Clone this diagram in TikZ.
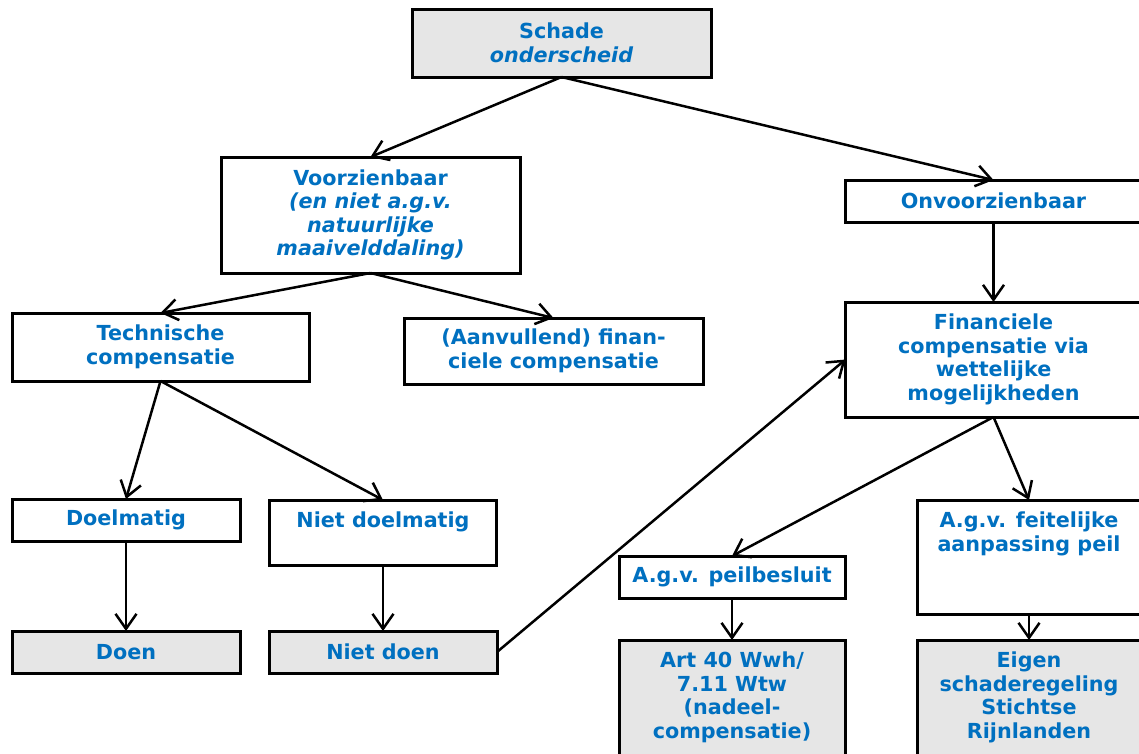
\documentclass[tikz,border=0pt]{standalone}
\usepackage{fontspec}
\setmainfont{DejaVu Sans}
\usetikzlibrary{arrows.meta}
\definecolor{txtblue}{HTML}{0070C0}
\definecolor{boxgray}{HTML}{E6E6E6}
\tikzset{
  txt/.style={inner sep=0pt, align=center, text=txtblue,
    font=\fontsize{20.7}{23.5}\selectfont\bfseries},
  box/.style={txt, draw=black, line width=3pt, fill=white, outer sep=0pt},
  grey/.style={box, fill=boxgray},
  conn/.style={line width=2.5pt, -{Straight Barb[length=15pt,width=21pt,line width=2.5pt]}},
}
\newcommand{\itx}[1]{{\itshape #1}}
\begin{document}
\begin{tikzpicture}[x=1pt,y=-1pt]
\useasboundingbox (0,0) rectangle (1139,753);
\begin{scope}
\clip (0,0) rectangle (1139,753);
% top level
\node[grey, minimum width=299pt, minimum height=68pt] (schade) at (561.5,43) {Schade\\\itx{onderscheid}};
\node[box, minimum width=299pt, minimum height=116pt] (voorz) at (370.5,215)
  {Voorzienbaar\\\itx{(en niet a.g.v.}\\\itx{natuurlijke}\\\itx{maaivelddaling)}};
\node[box, minimum width=296pt, minimum height=42pt] (onvoorz) at (993.5,201) {Onvoorzienbaar};
% second level
\node[box, minimum width=297pt, minimum height=68pt] (techn) at (160.5,347) {Technische\\compensatie};
\node[box, minimum width=299pt, minimum height=66pt] (aanv) at (553.5,351) {(Aanvullend) finan-\\ciele compensatie};
\node[box, minimum width=296pt, minimum height=115pt] (finan) at (993.5,359.5)
  {Financiele\\compensatie via\\wettelijke\\mogelijkheden};
% third level
\node[box, minimum width=228pt, minimum height=42pt] (doelm) at (126,520) {Doelmatig};
\node[box, minimum width=227pt, minimum height=65pt] (nietdm) at (383,532.5) {};
\node[txt, anchor=north] (nietdmt) at ([yshift=-12pt]nietdm.north) {Niet doelmatig};
\node[box, minimum width=226pt, minimum height=42pt] (peil) at (732,577) {A.g.v. peilbesluit};
\node[box, minimum width=224pt, minimum height=114pt] (feit) at (1029,557) {};
\node[txt, anchor=north] (feitt) at ([yshift=-12pt]feit.north) {A.g.v. feitelijke\\aanpassing peil};
% bottom level
\node[grey, minimum width=228pt, minimum height=42pt] (doen) at (126,652) {Doen};
\node[grey, minimum width=228pt, minimum height=42pt] (nietdoen) at (383,652) {Niet doen};
\node[grey, minimum width=226pt, minimum height=130pt] (art) at (732,705) {};
\node[txt, anchor=north] (artt) at ([yshift=-12pt]art.north) {Art 40 Wwh/\\7.11 Wtw\\(nadeel-\\compensatie)};
\node[grey, minimum width=224pt, minimum height=130pt] (eigen) at (1029,705) {};
\node[txt, anchor=north] (eigent) at ([yshift=-12pt]eigen.north) {Eigen\\schaderegeling\\Stichtse\\Rijnlanden};
% connectors
\draw[conn] (schade.south) -- (voorz.north);
\draw[conn] (schade.south) -- (onvoorz.north);
\draw[conn] (voorz.south) -- (techn.north);
\draw[conn] (voorz.south) -- (aanv.north);
\draw[conn] (onvoorz.south) -- (finan.north);
\draw[conn] (techn.south) -- (doelm.north);
\draw[conn] (techn.south) -- (nietdm.north);
\draw[conn] (doelm.south) -- (doen.north);
\draw[conn] (nietdm.south) -- (nietdoen.north);
\draw[conn] (nietdoen.east) -- (finan.west);
\draw[conn] (finan.south) -- (peil.north);
\draw[conn] (finan.south) -- (feit.north);
\draw[conn] (peil.south) -- (art.north);
\draw[conn] (feit.south) -- (eigen.north);
\end{scope}
\end{tikzpicture}
\end{document}
